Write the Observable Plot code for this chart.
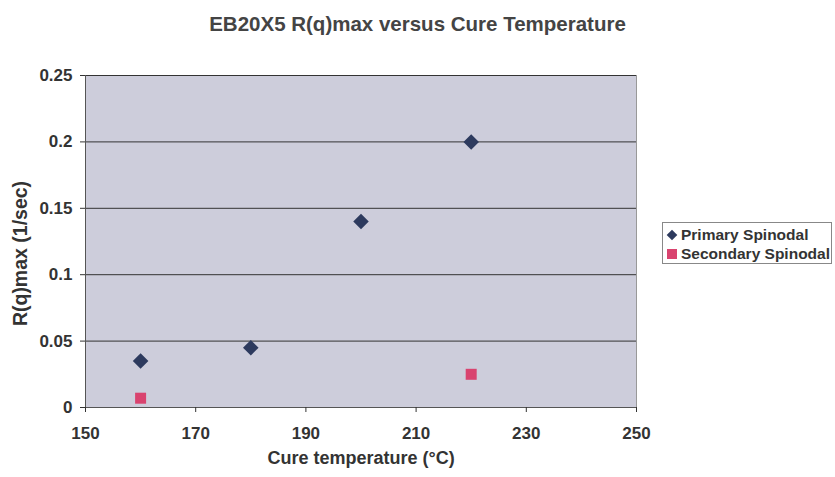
<!DOCTYPE html>
<html><head><meta charset="utf-8">
<script src="https://cdn.jsdelivr.net/npm/d3@7"></script>
<script src="https://cdn.jsdelivr.net/npm/@observablehq/plot@0.6"></script>
<style>
body{margin:0;background:#fff;font-family:"Liberation Sans",Arial,sans-serif;}
#wrap{position:relative;width:835px;height:477px;}
#title{position:absolute;left:0;width:835px;top:12px;text-align:center;font-weight:bold;font-size:20.5px;color:#444;}
#legend{position:absolute;left:662px;top:222px;width:170px;height:42px;border:1px solid #888;background:#fff;font-weight:bold;font-size:15.5px;color:#333;box-sizing:border-box;}
#legend div{display:flex;align-items:center;height:19px;padding-left:4px;white-space:nowrap;}
#legend div:first-child{margin-top:2px;}
.sym{display:inline-block;width:10px;height:10px;margin-right:4px;}
</style></head>
<body><div id="wrap"><div id="title">EB20X5 R(q)max versus Cure Temperature</div><div id="legend"></div></div>
<script>
const primaryTemp = [160, 180, 200, 220];
const primaryRate = [0.035, 0.045, 0.14, 0.2];
const secondaryTemp = [160, 220];
const secondaryRate = [0.007, 0.025];
const seriesNames = ["Primary Spinodal", "Secondary Spinodal"];
const seriesColors = ["#2d3a5e", "#d9436f"];
const xTicks = [150, 170, 190, 210, 230, 250];
const yTicks = [0, 0.05, 0.1, 0.15, 0.2, 0.25];
const xLabel = "Cure temperature (°C)";
const yLabel = "R(q)max (1/sec)";

const primary = primaryTemp.map((t, i) => ({t, r: primaryRate[i]}));
const secondary = secondaryTemp.map((t, i) => ({t, r: secondaryRate[i]}));

const chart = Plot.plot({
  width: 835, height: 477,
  marginLeft: 85, marginRight: 199, marginTop: 75, marginBottom: 70,
  style: {fontFamily: "Liberation Sans, Arial, sans-serif", fontWeight: "bold", fontSize: "17px", color: "#333", background: "transparent"},
  x: {domain: [150, 250]},
  y: {domain: [0, 0.25]},
  marks: [
    Plot.frame({fill: "#cdcddb", stroke: "#999"}),
    Plot.gridY(yTicks.filter(d => d > 0), {stroke: "#333", strokeOpacity: 1, strokeWidth: 1}),
    Plot.ruleX([150], {stroke: "#555"}),
    Plot.ruleY([0], {stroke: "#555"}),
    Plot.axisX({ticks: xTicks, tickFormat: d => d, tickSize: 5, tickPadding: 14, fontSize: 17, label: null}),
    Plot.axisX({ticks: [], label: xLabel, labelAnchor: "center", labelArrow: "none", labelOffset: 56, fontSize: 18}),
    Plot.axisY({ticks: yTicks, tickFormat: d => String(d), tickSize: 5, tickPadding: 8, fontSize: 17, label: null}),
    Plot.text([yLabel], {frameAnchor: "left", rotate: -90, textAnchor: "middle", dx: -65, dy: 12, fontSize: 19.5, fontWeight: "bold", fill: "#333", text: d => d}),
    Plot.dot(primary, {x: "t", y: "r", symbol: "diamond2", r: 7, fill: seriesColors[0], stroke: "none"}),
    Plot.dot(secondary, {x: "t", y: "r", symbol: "square2", r: 7, fill: seriesColors[1], stroke: "none"})
  ]
});
document.getElementById("wrap").prepend(chart);

const leg = document.getElementById("legend");
seriesNames.forEach((n, i) => {
  const row = document.createElement("div");
  const s = document.createElement("span");
  s.className = "sym";
  s.style.background = seriesColors[i];
  if (i === 0) { s.style.transform = "rotate(45deg) scale(0.75)"; }
  row.appendChild(s);
  row.appendChild(document.createTextNode(n));
  leg.appendChild(row);
});
</script></body></html>
